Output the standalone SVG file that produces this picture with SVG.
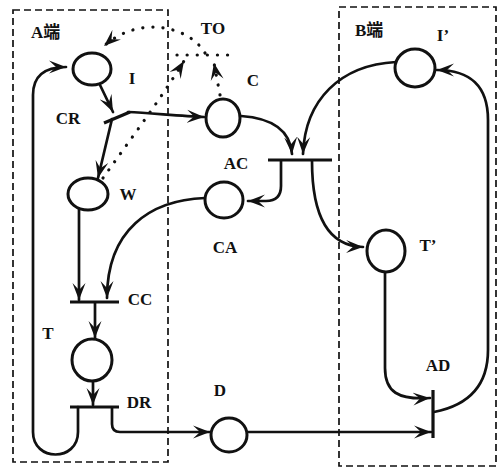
<svg xmlns="http://www.w3.org/2000/svg" width="498" height="468" viewBox="0 0 498 468">
  <style>
    .box { fill: none; stroke: #111; stroke-width: 1.7; stroke-dasharray: 7 4; }
    .place { fill: #fff; stroke: #111; stroke-width: 3; }
    .bar { fill: none; stroke: #111; stroke-width: 3.2; }
    .arc { fill: none; stroke: #111; stroke-width: 2.7; stroke-linecap: round; }
    .dot { fill: none; stroke: #111; stroke-width: 3.2; stroke-linecap: round; stroke-dasharray: 0.1 10; }
    .lbl { font-family: "Liberation Serif", "Times New Roman", "Noto Sans CJK SC", serif; font-weight: bold; font-size: 17px; fill: #111; }
    .cjk { font-family: "Liberation Serif", "Noto Sans CJK SC", serif; }
  </style>
  <defs>
    <marker id="head" viewBox="-17 -7 18 14" refX="0" refY="0" markerWidth="18" markerHeight="14" markerUnits="userSpaceOnUse" orient="auto">
      <path d="M0,0 L-17,-6.5 L-10,0 L-17,6.5 Z" fill="#111"/>
    </marker>
  </defs>

  <rect width="498" height="468" fill="#fff"/>

  <!-- site boundaries -->
  <g id="siteA">
    <rect class="box" x="13" y="10" width="155" height="452"/>
    <text class="lbl cjk" x="31" y="38">A端</text>
  </g>
  <g id="siteB">
    <rect class="box" x="339" y="7" width="157" height="459"/>
    <text class="lbl cjk" x="355" y="36">B端</text>
  </g>

  <!-- connectors -->
  <g id="connectors">
    <!-- return loop DR -> I -->
    <path class="arc" d="M78,407 L78,432 C78,462 33,462 33,432 L33,95 C33,76 44,67 66,67" marker-end="url(#head)"/>
    <path class="arc" d="M100,85 L113,112" marker-end="url(#head)"/>
    <path class="arc" d="M128,112 C150,113 180,116 204,117" marker-end="url(#head)"/>
    <path class="arc" d="M112,119 L98,178" marker-end="url(#head)"/>
    <path class="arc" d="M79,209 L79,300" marker-end="url(#head)"/>
    <path class="arc" d="M205,198 C150,200 107,230 107,298" marker-end="url(#head)"/>
    <path class="arc" d="M95,303 L95,338" marker-end="url(#head)"/>
    <path class="arc" d="M93,381 L93,405" marker-end="url(#head)"/>
    <path class="arc" d="M112,408 L112,424 Q112,432 120,432 L210,432" marker-end="url(#head)"/>
    <path class="arc" d="M248,432 L431,432" marker-end="url(#head)"/>
    <path class="arc" d="M385,268 L385,368 C385,392 398,400 430,398" marker-end="url(#head)"/>
    <path class="arc" d="M434,412 C470,405 488,385 488,350 L488,120 C488,86 470,70 437,70" marker-end="url(#head)"/>
    <path class="arc" d="M396,62 C340,65 305,100 303,154" marker-end="url(#head)"/>
    <path class="arc" d="M241,116 C270,118 290,128 292,154" marker-end="url(#head)"/>
    <path class="arc" d="M281,161 L281,186 Q281,201 266,201 L248,201" marker-end="url(#head)"/>
    <path class="arc" d="M312,161 C312,210 325,246 363,247" marker-end="url(#head)"/>
    <!-- timeout paths -->
    <path class="dot" d="M103,178 C130,140 160,100 184,61" marker-end="url(#head)"/>
    <path class="dot" d="M220,95 L214,63" marker-end="url(#head)"/>
    <path class="dot" d="M205,53 C190,27 140,14 104,46" marker-end="url(#head)"/>
  </g>

  <!-- places -->
  <g id="I"><ellipse class="place" cx="92" cy="69" rx="19" ry="16"/><text class="lbl" x="132" y="84" text-anchor="middle">I</text></g>
  <g id="W"><ellipse class="place" cx="88" cy="194" rx="20" ry="16"/><text class="lbl" x="128" y="200" text-anchor="middle">W</text></g>
  <g id="C"><ellipse class="place" cx="223" cy="118" rx="17" ry="19"/><text class="lbl" x="253" y="86" text-anchor="middle">C</text></g>
  <g id="CA"><ellipse class="place" cx="224" cy="200" rx="19" ry="18"/><text class="lbl" x="225" y="253" text-anchor="middle">CA</text></g>
  <g id="T"><ellipse class="place" cx="92" cy="360" rx="20" ry="21"/><text class="lbl" x="48" y="339" text-anchor="middle">T</text></g>
  <g id="D"><ellipse class="place" cx="229" cy="435" rx="18" ry="17"/><text class="lbl" x="220" y="396" text-anchor="middle">D</text></g>
  <g id="Iprime"><ellipse class="place" cx="415" cy="68" rx="20" ry="19"/><text class="lbl" x="443" y="41" text-anchor="middle">I’</text></g>
  <g id="Tprime"><ellipse class="place" cx="386" cy="251" rx="19" ry="21"/><text class="lbl" x="428" y="251" text-anchor="middle">T’</text></g>

  <!-- transitions -->
  <g id="CR"><path class="bar" d="M104,123 L130,112"/><text class="lbl" x="68" y="124" text-anchor="middle">CR</text></g>
  <g id="TO"><path class="dot" d="M177,55 L228,55"/><text class="lbl" x="213" y="34" text-anchor="middle">TO</text></g>
  <g id="AC"><path class="bar" d="M268,160 L332,160"/><text class="lbl" x="236" y="169" text-anchor="middle">AC</text></g>
  <g id="CC"><path class="bar" d="M70,302 L119,302"/><text class="lbl" x="140" y="305" text-anchor="middle">CC</text></g>
  <g id="DR"><path class="bar" d="M70,407 L119,407"/><text class="lbl" x="139" y="408" text-anchor="middle">DR</text></g>
  <g id="AD"><path class="bar" d="M433,390 L433,438"/><text class="lbl" x="438" y="371" text-anchor="middle">AD</text></g>
</svg>
